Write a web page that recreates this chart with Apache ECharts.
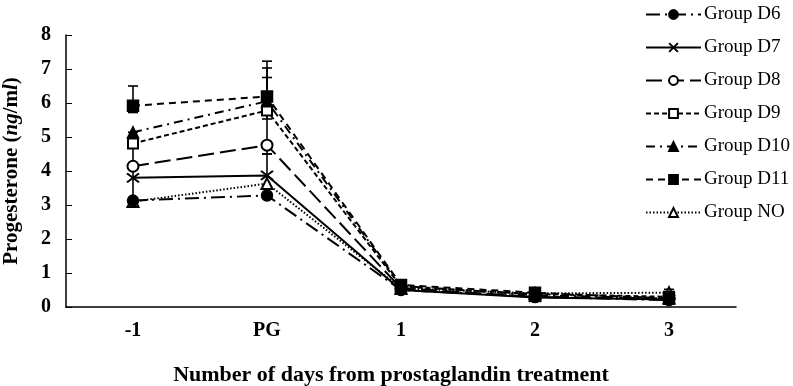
<!DOCTYPE html>
<html>
<head>
<meta charset="utf-8">
<script src="https://cdn.jsdelivr.net/npm/echarts@6/dist/echarts.min.js"></script>
<style>
  html, body { margin: 0; padding: 0; background: #fff; }
  #chart { width: 793px; height: 386px; }
</style>
</head>
<body>
<div id="chart"></div>
<script>
// 横轴类别
var days = ['-1', 'PG', '1', '2', '3'];
var groupNames = ['Group D6', 'Group D7', 'Group D8', 'Group D9', 'Group D10', 'Group D11', 'Group NO'];

// 各组孕酮值 (ng/ml)
var groupD6 = [3.13, 3.28, 0.50, 0.30, 0.20];
var groupD7 = [3.80, 3.87, 0.50, 0.28, 0.22];
var groupD8 = [4.14, 4.76, 0.55, 0.30, 0.25];
var groupD9 = [4.81, 5.78, 0.60, 0.38, 0.30];
var groupD10 = [5.14, 6.05, 0.62, 0.35, 0.25];
var groupD11 = [5.92, 6.19, 0.65, 0.42, 0.25];
var groupNO = [3.10, 3.63, 0.55, 0.40, 0.42];

// 误差线: [类别序号, 下限, 上限]
var errorBars = [
    [0, 5.72, 6.50],
    [0, 3.13, 5.14],
    [1, 5.53, 7.23],
    [1, 6.05, 7.03],
    [1, 4.50, 6.75],
    [1, 3.28, 4.50],
    [2, 0.40, 0.77],
    [3, 0.20, 0.50],
    [4, 0.15, 0.52]
];

var yTicks = [0, 8, 1]; // min, max, interval

var serif = '"Liberation Serif", "DejaVu Serif", serif';
var crossPath = 'path://M0,0L12,9M12,0L0,9';

var styles = [
    { symbol: 'circle', dash: [14, 5, 2, 5], size: 11, z: 5 },
    { symbol: crossPath, dash: 'solid', size: [12, 9], z: 3 },
    { symbol: 'emptyCircle', dash: [16, 6], size: 11, z: 3 },
    { symbol: 'emptyRect', dash: [5, 3], size: 10, z: 3 },
    { symbol: 'triangle', dash: [9, 5, 2, 5], size: 11, z: 3 },
    { symbol: 'rect', dash: [7, 5], size: 11, z: 3 },
    { symbol: 'emptyTriangle', dash: [1.5, 2], size: 11, z: 2 }
];
var values = [groupD6, groupD7, groupD8, groupD9, groupD10, groupD11, groupNO];

var myChart = echarts.init(document.getElementById('chart'));

var series = [];
// 误差线 (custom)
series.push({
    type: 'custom',
    z: 1,
    silent: true,
    data: errorBars,
    renderItem: function (params, api) {
        var lo = api.coord([api.value(0), api.value(1)]);
        var hi = api.coord([api.value(0), api.value(2)]);
        var w = 5;
        var st = { stroke: '#000', lineWidth: 1.6 };
        return {
            type: 'group',
            children: [
                { type: 'line', shape: { x1: lo[0], y1: lo[1], x2: hi[0], y2: hi[1] }, style: st },
                { type: 'line', shape: { x1: hi[0] - w, y1: hi[1], x2: hi[0] + w, y2: hi[1] }, style: st },
                { type: 'line', shape: { x1: lo[0] - w, y1: lo[1], x2: lo[0] + w, y2: lo[1] }, style: st }
            ]
        };
    }
});

for (var i = 0; i < groupNames.length; i++) {
    var s = styles[i];
    var isCross = s.symbol === crossPath;
    series.push({
        name: groupNames[i],
        type: 'line',
        z: s.z,
        data: values[i],
        symbol: s.symbol,
        symbolSize: s.size,
        showAllSymbol: true,
        lineStyle: { color: '#000', width: 2, type: s.dash },
        itemStyle: isCross
            ? { color: 'rgba(0,0,0,0)', borderColor: '#000', borderWidth: 2 }
            : { color: '#000', borderColor: '#000', borderWidth: 1.5 }
    });
}

var option = {
    animation: false,
    backgroundColor: '#fff',
    grid: { left: 66, right: 57, top: 35, bottom: 79, containLabel: false, outerBoundsMode: 'none' },
    legend: {
        orient: 'vertical',
        left: 640,
        top: -1,
        itemWidth: 55,
        itemHeight: 11,
        itemGap: 12,
        data: groupNames,
        textStyle: { fontFamily: serif, fontSize: 19, color: '#000', lineHeight: 21, padding: [0, 0, 0, -2] }
    },
    xAxis: {
        type: 'category',
        data: days,
        boundaryGap: true,
        name: 'Number of days from prostaglandin treatment',
        nameLocation: 'middle',
        nameGap: 57,
        nameTextStyle: { fontFamily: serif, fontSize: 22, fontWeight: 'bold', color: '#000', padding: [0, 20, 0, 0] },
        axisLine: { lineStyle: { color: '#000', width: 1.5 } },
        axisTick: { inside: true, alignWithLabel: true, length: 5, lineStyle: { color: '#000' } },
        axisLabel: { fontFamily: serif, fontSize: 20, fontWeight: 'bold', color: '#000', margin: 14 },
        splitLine: { show: false }
    },
    yAxis: {
        type: 'value',
        min: yTicks[0],
        max: yTicks[1],
        interval: yTicks[2],
        name: '{b|Progesterone (}{i|ng}{b|/m}{i|l}{b|)}',
        nameLocation: 'middle',
        nameGap: 44,
        nameRotate: 90,
        nameTextStyle: {
            rich: {
                b: { fontFamily: serif, fontSize: 21, fontWeight: 'bold', color: '#000' },
                i: { fontFamily: serif, fontSize: 21, fontWeight: 'bold', fontStyle: 'italic', color: '#000' }
            }
        },
        axisLine: { show: true, lineStyle: { color: '#000', width: 1.5 } },
        axisTick: { show: true, inside: true, length: 6, lineStyle: { color: '#000' } },
        axisLabel: { fontFamily: serif, fontSize: 20, fontWeight: 'bold', color: '#000', margin: 15 },
        splitLine: { show: false }
    },
    series: series
};

myChart.setOption(option);
</script>
</body>
</html>
